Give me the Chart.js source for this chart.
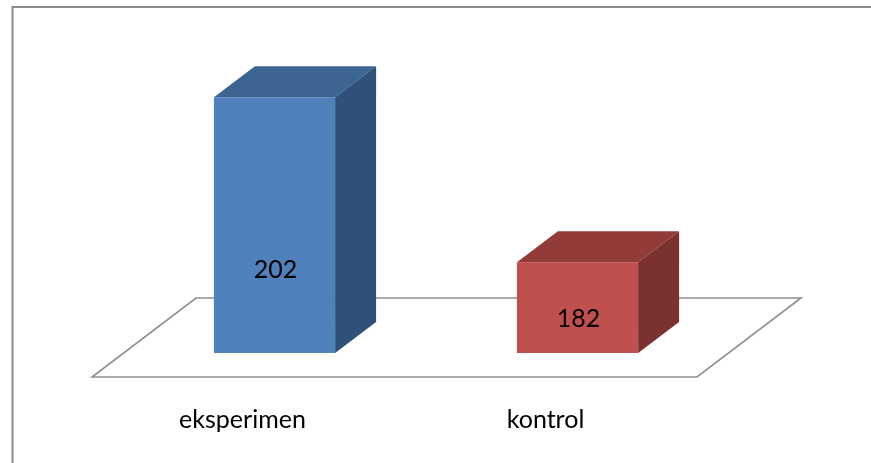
<!DOCTYPE html>
<html>
<head>
<meta charset="utf-8">
<style>
html,body{margin:0;padding:0;background:#fff;}
canvas{display:block;}
</style>
<script src="https://cdn.jsdelivr.net/npm/chart.js@4.4.0/dist/chart.umd.min.js"></script>
</head>
<body>
<canvas id="c" width="871" height="463"></canvas>
<script>
const categories = ["eksperimen", "kontrol"];
const values = [202, 182];
const frontColors = ["#4F81BD", "#C0504D"];
const topColors = ["#3D6592", "#923B39"];
const sideColors = ["#2F5078", "#7A3130"];

const DX = 41, DY = -31;
const FONT = "Lato, 'Open Sans', sans-serif";

const threeD = {
  id: "threeD",
  beforeDraw(chart) {
    const ctx = chart.ctx;
    ctx.save();
    ctx.fillStyle = "#fff";
    ctx.fillRect(0, 0, chart.width, chart.height);
    ctx.strokeStyle = "#8c8c8c";
    ctx.lineWidth = 2;
    ctx.beginPath();
    ctx.moveTo(12.5, chart.height);
    ctx.lineTo(12.5, 7);
    ctx.lineTo(chart.width, 7);
    ctx.stroke();
    ctx.restore();
  },
  beforeDatasetsDraw(chart) {
    const ctx = chart.ctx;
    const a = chart.chartArea;
    const fl = a.left - 31, fr = a.right - 32, fy = a.bottom + 24;
    const ddx = 104, ddy = -79;
    ctx.save();
    ctx.strokeStyle = "#8f8f8f";
    ctx.lineWidth = 1.6;
    ctx.beginPath();
    ctx.moveTo(fl, fy);
    ctx.lineTo(fr, fy);
    ctx.lineTo(fr + ddx, fy + ddy);
    ctx.lineTo(fl + ddx, fy + ddy);
    ctx.closePath();
    ctx.stroke();
    ctx.restore();
  },
  afterDatasetsDraw(chart) {
    const ctx = chart.ctx;
    const meta = chart.getDatasetMeta(0);
    const a = chart.chartArea;
    ctx.save();
    meta.data.forEach((bar, i) => {
      const p = bar.getProps(["x", "y", "base", "width"], true);
      const l = p.x - p.width / 2, r = p.x + p.width / 2;
      const t = p.y, b = Math.min(p.base, a.bottom);
      ctx.fillStyle = topColors[i];
      ctx.beginPath();
      ctx.moveTo(l, t);
      ctx.lineTo(l + DX, t + DY);
      ctx.lineTo(r + DX, t + DY);
      ctx.lineTo(r, t);
      ctx.closePath();
      ctx.fill();
      ctx.fillStyle = sideColors[i];
      ctx.beginPath();
      ctx.moveTo(r, t);
      ctx.lineTo(r + DX, t + DY);
      ctx.lineTo(r + DX, b + DY);
      ctx.lineTo(r, b);
      ctx.closePath();
      ctx.fill();
      const h = b - t;
      ctx.fillStyle = "#000";
      ctx.font = "25px " + FONT;
      ctx.textAlign = "center";
      ctx.textBaseline = "middle";
      ctx.fillText(String(values[i]), p.x + 1, t + 0.706 * h - 7.75);
      ctx.textBaseline = "alphabetic";
      ctx.fillText(categories[i], p.x - 32, 428);
    });
    ctx.restore();
  }
};

new Chart(document.getElementById("c"), {
  type: "bar",
  data: {
    labels: categories,
    datasets: [{
      data: values,
      backgroundColor: frontColors,
      borderWidth: 0,
      barPercentage: 0.4,
      categoryPercentage: 1.0
    }]
  },
  options: {
    responsive: false,
    animation: false,
    layout: { padding: { left: 123, right: 142, top: 23, bottom: 110 } },
    plugins: { legend: { display: false }, tooltip: { enabled: false } },
    scales: {
      x: { display: false },
      y: { display: false, min: 171, max: 211 }
    }
  },
  plugins: [threeD]
});
</script>
</body>
</html>
